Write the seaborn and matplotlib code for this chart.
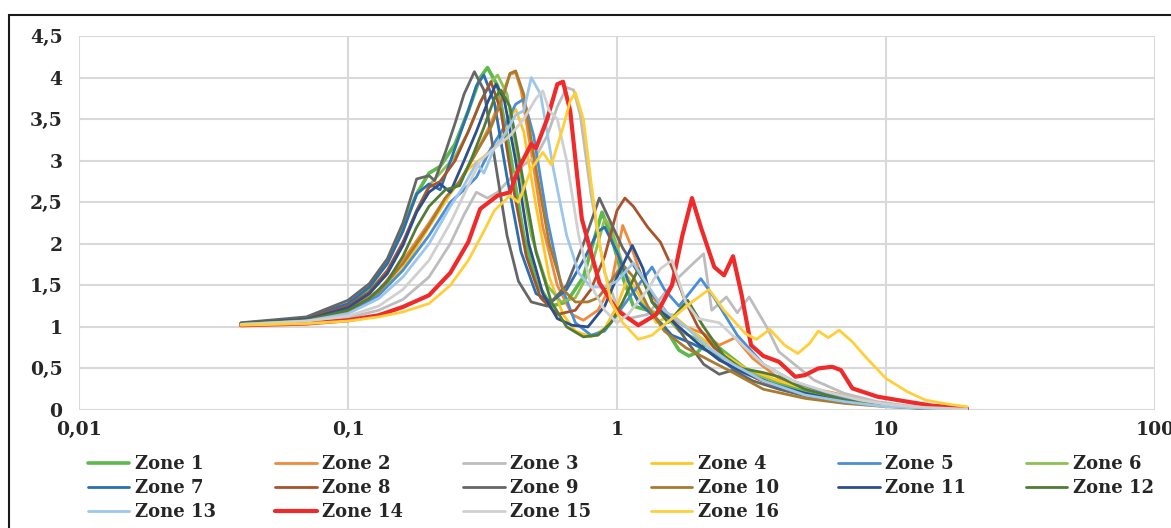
import matplotlib
matplotlib.use("Agg")
import matplotlib.pyplot as plt
from matplotlib.patches import Rectangle
from matplotlib.ticker import NullLocator
import seaborn as sns
import pandas as pd

# period (s) / amplification, one pair of lists per zone
t_z1 = [0.04, 0.07, 0.1, 0.12, 0.14, 0.16, 0.18, 0.2, 0.22, 0.25, 0.28, 0.31, 0.33, 0.36, 0.4, 0.45, 0.5, 0.57, 0.65, 0.75,
        0.83, 0.88, 0.95, 1.05, 1.15, 1.3, 1.5, 1.7, 1.85, 2.0, 2.2, 2.5, 3.0, 4.0, 5.0, 7.0, 10, 14, 20]
a_z1 = [1.04, 1.10, 1.27, 1.47, 1.78, 2.20, 2.60, 2.85, 2.93, 3.20, 3.60, 4.00, 4.12, 3.90, 3.10, 2.10, 1.55, 1.25, 1.30, 1.60,
        2.10, 2.38, 2.10, 1.60, 1.25, 1.20, 1.00, 0.72, 0.65, 0.70, 0.85, 0.70, 0.50, 0.32, 0.22, 0.11, 0.05, 0.02, 0.01]

t_z2 = [0.04, 0.07, 0.1, 0.13, 0.16, 0.2, 0.23, 0.26, 0.3, 0.34, 0.38, 0.40, 0.42, 0.44, 0.48, 0.53, 0.6, 0.68, 0.75, 0.85,
        0.95, 1.05, 1.12, 1.25, 1.4, 1.6, 1.8, 2.1, 2.4, 2.75, 3.2, 4.0, 5.0, 6.5, 8.0, 10, 14, 20]
a_z2 = [1.03, 1.08, 1.20, 1.44, 1.80, 2.25, 2.55, 2.75, 3.10, 3.45, 3.85, 4.04, 4.06, 3.85, 3.10, 2.20, 1.50, 1.15, 1.08, 1.20,
        1.50, 2.22, 2.00, 1.55, 1.30, 1.10, 1.00, 0.92, 0.78, 0.87, 0.62, 0.38, 0.28, 0.20, 0.12, 0.07, 0.03, 0.01]

t_z3 = [0.04, 0.07, 0.1, 0.13, 0.16, 0.2, 0.24, 0.27, 0.3, 0.33, 0.36, 0.4, 0.45, 0.5, 0.55, 0.6, 0.65, 0.69, 0.73, 0.8,
        0.9, 1.0, 1.1, 1.3, 1.5, 1.7, 1.9, 2.1, 2.25, 2.55, 2.8, 3.1, 3.6, 4.0, 5.4, 7.0, 9.3, 12, 20]
a_z3 = [1.03, 1.06, 1.11, 1.20, 1.33, 1.60, 2.00, 2.35, 2.62, 2.55, 2.62, 2.78, 2.95, 3.05, 3.30, 3.65, 3.88, 3.85, 3.55, 2.60,
        1.65, 1.25, 1.10, 1.15, 1.40, 1.60, 1.75, 1.88, 1.20, 1.36, 1.17, 1.36, 1.00, 0.70, 0.36, 0.20, 0.10, 0.05, 0.01]

t_z4 = [0.04, 0.07, 0.1, 0.13, 0.16, 0.2, 0.24, 0.28, 0.32, 0.36, 0.4, 0.42, 0.45, 0.5, 0.56, 0.63, 0.7, 0.8, 0.9, 1.0,
        1.1, 1.2, 1.4, 1.6, 1.9, 2.3, 3.0, 4.0, 6.0, 8.0, 10, 14, 20]
a_z4 = [1.03, 1.07, 1.18, 1.40, 1.70, 2.20, 2.60, 2.90, 3.05, 3.20, 3.52, 3.62, 3.35, 2.45, 1.60, 1.15, 0.95, 0.88, 0.98, 1.25,
        1.60, 1.40, 1.05, 1.15, 0.95, 0.75, 0.50, 0.35, 0.18, 0.10, 0.05, 0.02, 0.01]

t_z5 = [0.04, 0.07, 0.1, 0.13, 0.16, 0.2, 0.24, 0.27, 0.3, 0.34, 0.38, 0.42, 0.45, 0.49, 0.55, 0.62, 0.7, 0.8, 0.9, 1.0,
        1.2, 1.35, 1.5, 1.7, 2.05, 2.3, 2.8, 3.5, 4.5, 6.0, 8.0, 10, 14, 20]
a_z5 = [1.03, 1.07, 1.17, 1.38, 1.68, 2.10, 2.50, 2.65, 2.80, 3.15, 3.40, 3.68, 3.74, 3.30, 2.30, 1.50, 1.05, 0.90, 0.95, 1.15,
        1.50, 1.72, 1.45, 1.25, 1.58, 1.35, 0.90, 0.55, 0.35, 0.20, 0.10, 0.06, 0.02, 0.01]

t_z6 = [0.04, 0.07, 0.1, 0.12, 0.14, 0.16, 0.18, 0.2, 0.22, 0.25, 0.28, 0.31, 0.34, 0.36, 0.39, 0.43, 0.48, 0.55, 0.62, 0.7,
        0.8, 0.9, 0.95, 1.05, 1.15, 1.3, 1.5, 1.7, 2.0, 2.4, 3.0, 4.0, 5.0, 7.0, 10, 14, 20]
a_z6 = [1.04, 1.09, 1.24, 1.40, 1.65, 2.00, 2.40, 2.70, 2.85, 3.05, 3.35, 3.70, 3.95, 4.03, 3.80, 3.00, 2.10, 1.50, 1.30, 1.35,
        1.70, 2.30, 2.20, 1.75, 1.40, 1.20, 1.15, 0.95, 0.85, 0.65, 0.48, 0.30, 0.20, 0.10, 0.05, 0.02, 0.01]

t_z7 = [0.04, 0.07, 0.1, 0.12, 0.14, 0.16, 0.18, 0.2, 0.22, 0.25, 0.28, 0.3, 0.32, 0.35, 0.39, 0.44, 0.5, 0.57, 0.65, 0.75,
        0.85, 0.9, 1.0, 1.1, 1.2, 1.4, 1.6, 1.9, 2.2, 2.7, 3.5, 5.0, 7.0, 10, 14, 20]
a_z7 = [1.04, 1.11, 1.28, 1.48, 1.76, 2.15, 2.60, 2.72, 2.65, 3.15, 3.60, 3.90, 4.03, 3.70, 2.80, 1.90, 1.40, 1.30, 1.45, 1.80,
        2.15, 2.20, 1.90, 1.55, 1.30, 1.10, 0.90, 0.80, 0.70, 0.50, 0.35, 0.20, 0.10, 0.05, 0.02, 0.01]

t_z8 = [0.04, 0.07, 0.1, 0.12, 0.14, 0.16, 0.18, 0.2, 0.22, 0.25, 0.28, 0.31, 0.34, 0.37, 0.41, 0.46, 0.52, 0.6, 0.7, 0.8,
        0.9, 1.0, 1.07, 1.15, 1.3, 1.45, 1.6, 1.8, 2.0, 2.3, 2.7, 3.3, 4.0, 5.0, 7.0, 10, 14, 20]
a_z8 = [1.04, 1.10, 1.25, 1.42, 1.68, 2.02, 2.40, 2.68, 2.75, 3.00, 3.35, 3.70, 3.95, 3.60, 2.70, 1.85, 1.35, 1.15, 1.20, 1.45,
        1.85, 2.40, 2.55, 2.45, 2.20, 2.02, 1.72, 1.30, 1.00, 0.75, 0.55, 0.38, 0.27, 0.18, 0.10, 0.05, 0.02, 0.01]

t_z9 = [0.04, 0.07, 0.1, 0.12, 0.14, 0.16, 0.18, 0.2, 0.21, 0.23, 0.25, 0.27, 0.295, 0.32, 0.35, 0.39, 0.43, 0.48, 0.55, 0.65,
        0.75, 0.86, 0.95, 1.05, 1.2, 1.35, 1.55, 1.8, 2.1, 2.4, 2.7, 3.2, 4.0, 5.0, 7.0, 10, 14, 20]
a_z9 = [1.05, 1.12, 1.32, 1.52, 1.82, 2.25, 2.78, 2.82, 2.76, 3.10, 3.45, 3.80, 4.07, 3.85, 3.05, 2.10, 1.55, 1.30, 1.25, 1.50,
        2.00, 2.55, 2.25, 1.95, 1.65, 1.40, 1.15, 0.85, 0.55, 0.43, 0.48, 0.35, 0.25, 0.17, 0.09, 0.05, 0.02, 0.01]

t_z10 = [0.04, 0.07, 0.1, 0.13, 0.16, 0.2, 0.23, 0.26, 0.3, 0.34, 0.38, 0.40, 0.42, 0.45, 0.5, 0.56, 0.63, 0.7, 0.78, 0.85,
         0.95, 1.05, 1.15, 1.3, 1.5, 1.8, 2.2, 2.7, 3.5, 5.0, 7.0, 10, 14, 20]
a_z10 = [1.03, 1.08, 1.19, 1.42, 1.76, 2.22, 2.55, 2.75, 3.10, 3.40, 3.80, 4.05, 4.08, 3.80, 2.90, 2.00, 1.45, 1.30, 1.30, 1.35,
         1.55, 1.75, 1.60, 1.25, 0.95, 0.75, 0.60, 0.45, 0.25, 0.14, 0.08, 0.04, 0.02, 0.01]

t_z11 = [0.04, 0.07, 0.1, 0.12, 0.14, 0.16, 0.18, 0.2, 0.22, 0.24, 0.27, 0.3, 0.33, 0.355, 0.38, 0.42, 0.47, 0.53, 0.6, 0.68,
         0.78, 0.9, 1.0, 1.14, 1.25, 1.35, 1.5, 1.7, 2.0, 2.4, 3.0, 4.0, 5.0, 7.0, 10, 14, 20]
a_z11 = [1.04, 1.09, 1.23, 1.40, 1.64, 1.98, 2.38, 2.62, 2.72, 2.62, 3.00, 3.35, 3.70, 3.92, 3.75, 3.00, 2.00, 1.40, 1.10, 1.02,
         1.00, 1.25, 1.60, 1.98, 1.70, 1.30, 1.15, 1.00, 0.80, 0.60, 0.45, 0.28, 0.20, 0.10, 0.05, 0.02, 0.01]

t_z12 = [0.04, 0.07, 0.1, 0.12, 0.14, 0.16, 0.18, 0.2, 0.23, 0.26, 0.29, 0.32, 0.35, 0.37, 0.4, 0.44, 0.5, 0.57, 0.65, 0.75,
         0.85, 0.95, 1.05, 1.2, 1.35, 1.55, 1.83, 2.1, 2.5, 2.9, 3.5, 4.0, 5.0, 7.0, 10, 14, 20]
a_z12 = [1.04, 1.08, 1.20, 1.34, 1.55, 1.85, 2.20, 2.45, 2.65, 2.70, 3.05, 3.40, 3.75, 3.85, 3.65, 2.90, 1.90, 1.30, 1.00, 0.88,
         0.90, 1.05, 1.30, 1.70, 1.30, 1.05, 1.32, 1.00, 0.65, 0.50, 0.45, 0.40, 0.25, 0.12, 0.05, 0.02, 0.01]

t_z13 = [0.04, 0.07, 0.1, 0.13, 0.16, 0.2, 0.24, 0.27, 0.3, 0.32, 0.35, 0.38, 0.42, 0.45, 0.48, 0.52, 0.58, 0.65, 0.72, 0.8,
         0.9, 1.0, 1.15, 1.3, 1.5, 1.8, 2.2, 2.7, 3.5, 5.0, 7.0, 10, 14, 20]
a_z13 = [1.03, 1.07, 1.16, 1.34, 1.60, 2.00, 2.45, 2.70, 2.97, 2.85, 3.15, 3.30, 3.55, 3.60, 4.00, 3.80, 2.90, 2.10, 1.65, 1.48,
         1.48, 1.55, 1.77, 1.50, 1.20, 1.00, 0.75, 0.55, 0.35, 0.18, 0.10, 0.04, 0.02, 0.01]

t_z14 = [0.04, 0.07, 0.1, 0.13, 0.16, 0.2, 0.24, 0.28, 0.31, 0.36, 0.4, 0.43, 0.48, 0.5, 0.55, 0.6, 0.63, 0.67, 0.74, 0.86,
         1.0, 1.2, 1.4, 1.6, 1.75, 1.9, 2.05, 2.3, 2.5, 2.7, 2.9, 3.15, 3.5, 4.0, 4.6, 5.0, 5.6, 6.3, 6.8, 7.5,
         9.3, 12, 15, 20]
a_z14 = [1.02, 1.04, 1.08, 1.14, 1.24, 1.38, 1.65, 2.02, 2.42, 2.58, 2.62, 2.90, 3.20, 3.15, 3.50, 3.92, 3.95, 3.60, 2.30, 1.53,
         1.20, 1.02, 1.15, 1.50, 2.10, 2.55, 2.20, 1.72, 1.62, 1.85, 1.40, 0.78, 0.65, 0.58, 0.40, 0.42, 0.50, 0.52, 0.48, 0.26,
         0.16, 0.10, 0.05, 0.02]

t_z15 = [0.04, 0.07, 0.1, 0.13, 0.16, 0.2, 0.24, 0.28, 0.31, 0.35, 0.4, 0.45, 0.5, 0.53, 0.56, 0.6, 0.65, 0.72, 0.8, 0.9,
         1.0, 1.1, 1.3, 1.45, 1.6, 1.8, 2.0, 2.4, 3.0, 3.5, 4.5, 6.0, 8.0, 10, 14, 20]
a_z15 = [1.03, 1.07, 1.13, 1.25, 1.45, 1.80, 2.25, 2.70, 3.00, 3.15, 3.30, 3.50, 3.75, 3.84, 3.60, 3.50, 3.00, 2.10, 1.50, 1.20,
         1.05, 1.15, 1.45, 1.70, 1.80, 1.30, 1.10, 1.05, 0.75, 0.55, 0.35, 0.22, 0.12, 0.07, 0.03, 0.01]

t_z16 = [0.04, 0.07, 0.1, 0.13, 0.16, 0.2, 0.24, 0.28, 0.32, 0.35, 0.4, 0.43, 0.48, 0.53, 0.57, 0.63, 0.67, 0.7, 0.75, 0.8,
         0.86, 0.95, 1.05, 1.2, 1.35, 1.6, 1.9, 2.2, 2.5, 3.0, 3.3, 3.7, 4.2, 4.7, 5.2, 5.6, 6.1, 6.7, 7.5, 8.5,
         10, 12, 14, 17, 20]
a_z16 = [1.02, 1.04, 1.07, 1.12, 1.18, 1.28, 1.50, 1.80, 2.15, 2.40, 2.58, 2.50, 2.90, 3.10, 2.95, 3.40, 3.72, 3.82, 3.50, 2.75,
         2.00, 1.30, 1.05, 0.85, 0.90, 1.10, 1.30, 1.45, 1.20, 0.92, 0.85, 0.97, 0.78, 0.68, 0.80, 0.95, 0.87, 0.96, 0.82, 0.62,
         0.38, 0.22, 0.12, 0.07, 0.04]

zones = ["Zone %d" % i for i in range(1, 17)]
periods = [t_z1, t_z2, t_z3, t_z4, t_z5, t_z6, t_z7, t_z8, t_z9, t_z10, t_z11, t_z12, t_z13, t_z14, t_z15, t_z16]
amps = [a_z1, a_z2, a_z3, a_z4, a_z5, a_z6, a_z7, a_z8, a_z9, a_z10, a_z11, a_z12, a_z13, a_z14, a_z15, a_z16]
colors = ["#5DB94B", "#F08A3C", "#BDBDBD", "#FFC526", "#4A8FD6", "#8CC152", "#2C6FB0", "#A9532C",
          "#666666", "#A87B2F", "#2D4F8E", "#527B35", "#9CC7EA", "#EE2A2A", "#D0D0D0", "#FFCF3A"]
widths = [2.6, 2, 2, 2, 2, 2, 2, 2, 2, 2, 2, 2, 2, 3, 2, 2]

x_ticks = [0.01, 0.1, 1, 10, 100]
x_labels = ["0,01", "0,1", "1", "10", "100"]
y_ticks = [0, 0.5, 1, 1.5, 2, 2.5, 3, 3.5, 4, 4.5]
y_labels = ["0", "0,5", "1", "1,5", "2", "2,5", "3", "3,5", "4", "4,5"]

rows = []
for z, ts, vs in zip(zones, periods, amps):
    for t, v in zip(ts, vs):
        rows.append((z, t, v))
df = pd.DataFrame(rows, columns=["zone", "period", "amp"])

sns.set_style("white")
plt.rcParams["font.family"] = ["DejaVu Serif"]
plt.rcParams["font.weight"] = "bold"

fig = plt.figure(figsize=(11.71, 5.28), dpi=100)
ax = fig.add_axes([0.0675, 0.2235, 0.9188, 0.7083])

handles = {}
for z, c, w in zip(zones, colors, widths):
    sns.lineplot(data=df[df.zone == z], x="period", y="amp", color=c, lw=w,
                 estimator=None, legend=False, ax=ax)
    handles[z] = ax.lines[-1]

ax.set_xscale("log")
ax.set_xlim(0.01, 100)
ax.set_ylim(0, 4.5)
ax.set_xticks(x_ticks)
ax.set_xticklabels(x_labels)
ax.xaxis.set_minor_locator(NullLocator())
ax.set_yticks(y_ticks)
ax.set_yticklabels(y_labels)
ax.set_xlabel("")
ax.set_ylabel("")
ax.tick_params(axis="both", length=0, labelsize=13.5, colors="#262626")
ax.tick_params(axis="x", pad=8)
ax.tick_params(axis="y", pad=12)
ax.grid(True, color="#D9D9D9", lw=1.5)
ax.set_axisbelow(True)
for s in ax.spines.values():
    s.set_visible(False)

# legend reads row by row, matplotlib fills column by column
order = [1, 7, 13, 2, 8, 14, 3, 9, 15, 4, 10, 16, 5, 11, 6, 12]
leg = fig.legend([handles["Zone %d" % i] for i in order], ["Zone %d" % i for i in order],
                 ncol=6, loc="upper left", bbox_to_anchor=(0.0751, 1 - 455 / 528), frameon=False,
                 fontsize=13, handlelength=2.3, handletextpad=0.3, columnspacing=3.3,
                 labelspacing=0.34, borderpad=0, borderaxespad=0)
for t in leg.get_texts():
    t.set_color("#262626")

fig.patches.append(Rectangle((9 / 1171, -0.01), 1.2, 0.9716 + 0.01, transform=fig.transFigure,
                             fill=False, ec="#1a1a1a", lw=1.5))

fig.savefig("out.png", dpi=100)
